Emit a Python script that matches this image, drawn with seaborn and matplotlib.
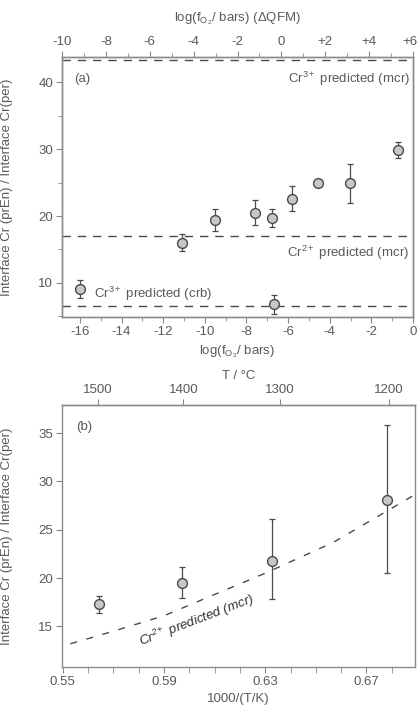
import numpy as np
import pandas as pd
import matplotlib
matplotlib.use("Agg")
import matplotlib.pyplot as plt
import matplotlib.transforms as mtrans
from matplotlib.ticker import MultipleLocator, FixedLocator
import seaborn as sns

# ---------------- data ----------------
# panel (a)
a_logfo2 = [-16.0, -11.1, -9.5, -7.6, -6.75, -6.7, -5.8, -4.55, -3.05, -0.7]
a_ratio = [9.1, 16.0, 19.4, 20.5, 19.7, 6.8, 22.6, 24.9, 24.9, 29.9]
a_err = [1.3, 1.3, 1.6, 1.9, 1.3, 1.4, 1.9, 0.5, 2.9, 1.2]
a_pred_cr3_mcr = 43.4
a_pred_cr2_mcr = 17.0
a_pred_cr3_crb = 6.5
a_bottom_ticks = [-16, -14, -12, -10, -8, -6, -4, -2, 0]
a_top_ticks = [-10, -8, -6, -4, -2, 0, 2, 4, 6]
a_top_labels = ["-10", "-8", "-6", "-4", "-2", "0", "+2", "+4", "+6"]
a_y_ticks = [10, 20, 30, 40]

# panel (b)
b_invT = [0.5645, 0.597, 0.6327, 0.6782]
b_ratio = [17.3, 19.5, 21.8, 28.1]
b_err_lo = [0.9, 1.6, 4.0, 7.6]
b_err_hi = [0.8, 1.6, 4.3, 7.7]
b_curve_x = [0.553, 0.57, 0.59, 0.61, 0.63, 0.657, 0.689]
b_curve_y = [13.2, 14.5, 16.1, 18.3, 20.5, 23.7, 28.6]
b_x_ticks = [0.55, 0.59, 0.63, 0.67]
b_y_ticks = [15, 20, 25, 30, 35]
b_top_ticks = [1500, 1400, 1300, 1200]

ylabel = "Interface Cr (prEn) / Interface Cr(per)"

# ---------------- style ----------------
sns.set_style("ticks")
plt.rcParams["font.family"] = ["Liberation Sans", "DejaVu Sans"]
plt.rcParams["mathtext.fontset"] = "custom"
plt.rcParams["mathtext.rm"] = "Liberation Sans"
plt.rcParams["mathtext.it"] = "Liberation Sans:italic"
plt.rcParams["mathtext.sf"] = "Liberation Sans"
plt.rcParams["mathtext.default"] = "regular"
plt.rcParams["axes.unicode_minus"] = False

TXT = "#5a5a5a"
SPN = "#8a8a8a"
MK_FACE = "#c4c8c8"
MK_EDGE = "#4a4a4a"
FS = 9.5

plt.rcParams.update({
    "axes.edgecolor": SPN, "axes.linewidth": 1.0,
    "xtick.color": SPN, "ytick.color": SPN,
    "xtick.labelcolor": TXT, "ytick.labelcolor": TXT,
    "xtick.direction": "out", "ytick.direction": "out",
    "xtick.major.size": 4, "ytick.major.size": 4,
    "xtick.minor.size": 3, "ytick.minor.size": 3,
    "xtick.major.pad": 2.5, "ytick.major.pad": 2.5,
    "xtick.labelsize": FS, "ytick.labelsize": FS,
    "axes.labelcolor": TXT, "axes.labelsize": FS,
    "text.color": TXT,
})

fig = plt.figure(figsize=(4.19, 7.09), dpi=100)
axA = fig.add_axes([62/419, 1-317/709, 351/419, 260/709])
axB = fig.add_axes([62/419, 1-667/709, 353/419, 262/709])

# ---------------- panel (a) ----------------
dfa = pd.DataFrame({"x": a_logfo2, "y": a_ratio, "e": a_err})
for yv in (a_pred_cr3_mcr, a_pred_cr2_mcr, a_pred_cr3_crb):
    axA.axhline(yv, color="#4a4a4a", lw=1.0, dashes=(6, 5), zorder=1)
axA.errorbar(dfa["x"], dfa["y"], yerr=dfa["e"], fmt="none", ecolor=MK_EDGE,
             elinewidth=0.9, capsize=2.5, capthick=0.9, zorder=2)
sns.scatterplot(data=dfa, x="x", y="y", ax=axA, s=50, color=MK_FACE,
                edgecolor=MK_EDGE, linewidth=1.0, zorder=3)
axA.set_xlim(-16.86, 0)
axA.set_ylim(4.9, 43.8)
axA.xaxis.set_major_locator(FixedLocator(a_bottom_ticks))
axA.xaxis.set_minor_locator(MultipleLocator(1))
axA.yaxis.set_major_locator(FixedLocator(a_y_ticks))
axA.yaxis.set_minor_locator(MultipleLocator(5))
axA.set_xlabel(r"log($f_{O_2}$/ bars)", fontsize=FS)
axA.xaxis.set_label_coords(0.5, -0.1)
axA.set_ylabel(ylabel, fontsize=FS)
axA.yaxis.set_label_coords(-0.14, 0.5)
axA.text(0.035, 0.905, "(a)", transform=axA.transAxes, fontsize=FS, color=TXT)
axA.text(0.993, 0.915, r"Cr$^{3+}$ predicted (mcr)", transform=axA.transAxes,
         ha="right", va="center", fontsize=FS, color=TXT)
axA.text(0.99, 0.245, r"Cr$^{2+}$ predicted (mcr)", transform=axA.transAxes,
         ha="right", va="center", fontsize=FS, color=TXT)
axA.text(-15.3, 8.3, r"Cr$^{3+}$ predicted (crb)", ha="left", va="center",
         fontsize=FS, color=TXT)

topA = axA.twiny()
topA.set_xlim(-10, 6)
topA.xaxis.set_major_locator(FixedLocator(a_top_ticks))
topA.set_xticklabels(a_top_labels)
topA.xaxis.set_minor_locator(MultipleLocator(1))
topA.set_xlabel(r"log($f_{O_2}$/ bars) ($\Delta$QFM)", fontsize=FS)
topA.xaxis.set_label_coords(0.5, 1.135)
for sp in topA.spines.values():
    sp.set_color(SPN)
# keep the last top label inside the figure
last_lbl = topA.get_xticklabels()[-1]
last_lbl.set_transform(last_lbl.get_transform() +
                       mtrans.ScaledTranslation(-3/100, 0, fig.dpi_scale_trans))

# ---------------- panel (b) ----------------
dfb = pd.DataFrame({"x": b_invT, "y": b_ratio})
dfc = pd.DataFrame({"x": b_curve_x, "y": b_curve_y})
sns.lineplot(data=dfc, x="x", y="y", ax=axB, color="#4a4a4a", lw=1.0,
             dashes=False, zorder=1).lines[0].set_dashes((5, 7))
axB.errorbar(dfb["x"], dfb["y"], yerr=[b_err_lo, b_err_hi], fmt="none",
             ecolor=MK_EDGE, elinewidth=0.9, capsize=2.5, capthick=0.9,
             ls=":", zorder=2)
sns.scatterplot(data=dfb, x="x", y="y", ax=axB, s=50, color=MK_FACE,
                edgecolor=MK_EDGE, linewidth=1.0, zorder=3)
axB.set_xlim(0.5497, 0.6892)
axB.set_ylim(10.8, 37.9)
axB.xaxis.set_major_locator(FixedLocator(b_x_ticks))
axB.set_xticklabels([f"{v:.2f}" for v in b_x_ticks])
axB.xaxis.set_minor_locator(MultipleLocator(0.01))
axB.tick_params(axis="x", which="minor", length=4)
axB.yaxis.set_major_locator(FixedLocator(b_y_ticks))
axB.set_xlabel("1000/(T/K)", fontsize=FS)
axB.xaxis.set_label_coords(0.5, -0.1)
axB.set_ylabel(ylabel, fontsize=FS)
axB.yaxis.set_label_coords(-0.14, 0.5)
axB.text(0.04, 0.905, "(b)", transform=axB.transAxes, fontsize=FS, color=TXT)
axB.text(0.603, 15.6, r"Cr$^{2+}$ predicted (mcr)", rotation=21, ha="center",
         va="center", fontsize=FS, color="#303030", style="italic")

secB = axB.secondary_xaxis("top", functions=(lambda x: 1000.0/np.asarray(x) - 273.15,
                                             lambda t: 1000.0/(np.asarray(t) + 273.15)))
secB.xaxis.set_major_locator(FixedLocator(b_top_ticks))
secB.set_xlabel("T / °C", fontsize=FS)
secB.xaxis.set_label_coords(0.5, 1.1, transform=axB.transAxes)
secB.spines["top"].set_color(SPN)

fig.savefig("out.png", dpi=100)
